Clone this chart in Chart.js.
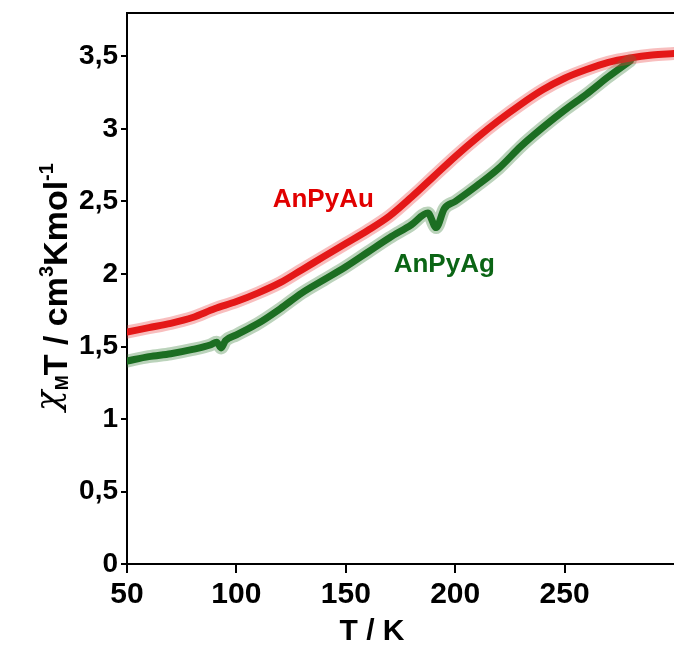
<!DOCTYPE html>
<html>
<head>
<meta charset="utf-8">
<script src="https://cdn.jsdelivr.net/npm/chart.js@4.4.1/dist/chart.umd.min.js"></script>
<style>
  body { margin: 0; background: #fff; }
  canvas { display: block; }
</style>
</head>
<body>
<canvas id="chart" width="674" height="646"></canvas>
<script>
// chi_M*T vs T data
const auTemps = [50, 60, 70, 80, 90, 100, 110, 120, 130, 140, 150, 160, 170, 180, 190, 200, 210, 220, 230, 240, 250, 260, 270, 280, 290, 300];
const auValues = [1.60, 1.63, 1.66, 1.70, 1.76, 1.81, 1.87, 1.94, 2.03, 2.12, 2.21, 2.30, 2.40, 2.53, 2.67, 2.81, 2.94, 3.06, 3.17, 3.27, 3.35, 3.41, 3.46, 3.49, 3.51, 3.52];

const agTemps = [50, 60, 70, 80, 88, 91, 93, 95, 100, 110, 120, 130, 140, 150, 160, 170, 180, 187.5, 191.3, 195, 200, 210, 220, 230, 240, 250, 260, 270, 280];
const agValues = [1.40, 1.43, 1.45, 1.48, 1.51, 1.53, 1.49, 1.54, 1.58, 1.66, 1.76, 1.87, 1.96, 2.05, 2.15, 2.25, 2.34, 2.42, 2.32, 2.45, 2.50, 2.61, 2.73, 2.88, 3.01, 3.13, 3.24, 3.36, 3.47];

const xTicks = [50, 100, 150, 200, 250];
const yTicks = [0, 0.5, 1, 1.5, 2, 2.5, 3, 3.5];

// series labels placed in data units (T, value at baseline)
const seriesNames = ["AnPyAu", "AnPyAg"];
const labelSpots = [[139.7, 2.46], [195, 2.015]];

const RED = "#e10000";
const GREEN = "#0b6515";
const FONT = "'Liberation Sans', Arial, sans-serif";

function toPoints(xs, ys) {
  return xs.map((x, i) => ({ x: x, y: ys[i] }));
}

const extras = {
  id: "extras",
  afterDraw(chart) {
    const ctx = chart.ctx;
    const area = chart.chartArea;
    const sx = chart.scales.x, sy = chart.scales.y;
    ctx.save();

    // top frame line
    ctx.strokeStyle = "#000";
    ctx.lineWidth = 2;
    ctx.beginPath();
    ctx.moveTo(area.left, area.top);
    ctx.lineTo(area.right, area.top);
    ctx.stroke();

    // series labels
    ctx.font = "bold 26px " + FONT;
    ctx.textAlign = "center";
    ctx.textBaseline = "alphabetic";
    [RED, GREEN].forEach((c, i) => {
      ctx.fillStyle = c;
      ctx.fillText(seriesNames[i], sx.getPixelForValue(labelSpots[i][0]), sy.getPixelForValue(labelSpots[i][1]));
    });

    // x title
    ctx.fillStyle = "#000";
    ctx.font = "bold 30px " + FONT;
    ctx.fillText("T / K", 372, 640);

    // y title with sub/superscripts, rotated
    const parts = [
      { t: "\u03C7", f: "italic 34px 'DejaVu Serif', serif", dy: -8 },
      { t: "M", f: "bold 18px " + FONT, dy: 1 },
      { t: "T / cm", f: "bold 34px " + FONT, dy: 0 },
      { t: "3", f: "bold 20px " + FONT, dy: -14 },
      { t: "Kmol", f: "bold 34px " + FONT, dy: 0 },
      { t: "-1", f: "bold 20px " + FONT, dy: -14 }
    ];
    let total = 0;
    parts.forEach(p => { ctx.font = p.f; p.w = ctx.measureText(p.t).width; total += p.w; });
    ctx.translate(67, 287);
    ctx.rotate(-Math.PI / 2);
    ctx.textAlign = "left";
    let pos = -total / 2;
    parts.forEach(p => {
      ctx.font = p.f;
      ctx.fillText(p.t, pos, p.dy);
      pos += p.w;
    });
    ctx.restore();
  }
};

new Chart(document.getElementById("chart"), {
  type: "line",
  data: {
    datasets: [
      { data: toPoints(auTemps, auValues), borderColor: "rgba(235,70,70,0.35)", borderWidth: 13 },
      { data: toPoints(agTemps, agValues), borderColor: "rgba(60,130,60,0.35)", borderWidth: 13 },
      { data: toPoints(auTemps, auValues), borderColor: RED, borderWidth: 7 },
      { data: toPoints(agTemps, agValues), borderColor: GREEN, borderWidth: 7 }
    ]
  },
  options: {
    responsive: false,
    animation: false,
    events: [],
    layout: { padding: { top: 13, right: 0, left: 0, bottom: 0 } },
    elements: {
      point: { radius: 0 },
      line: { cubicInterpolationMode: "monotone", borderCapStyle: "round", borderJoinStyle: "round" }
    },
    plugins: { legend: { display: false }, tooltip: { enabled: false } },
    scales: {
      x: {
        type: "linear",
        min: 50,
        max: 300,
        afterFit: s => { s.height = 82; s.paddingLeft = 0; s.paddingRight = 0; },
        afterBuildTicks: s => { s.ticks = xTicks.map(v => ({ value: v })); },
        ticks: { color: "#000", font: { family: FONT, size: 30, weight: "bold" }, padding: 4, maxRotation: 0 },
        grid: { drawOnChartArea: false, drawTicks: true, tickLength: 9, color: "#000", lineWidth: 2 },
        border: { color: "#000", width: 2 }
      },
      y: {
        min: 0,
        max: 3.8,
        afterFit: s => { s.width = 127; s.paddingTop = 0; s.paddingBottom = 0; },
        afterBuildTicks: s => { s.ticks = yTicks.map(v => ({ value: v })); },
        ticks: {
          color: "#000",
          font: { family: FONT, size: 28, weight: "bold" },
          padding: 3,
          callback: v => String(v).replace(".", ",")
        },
        grid: { drawOnChartArea: false, drawTicks: true, tickLength: 6, color: "#000", lineWidth: 2 },
        border: { color: "#000", width: 2 }
      }
    }
  },
  plugins: [extras]
});
</script>
</body>
</html>
